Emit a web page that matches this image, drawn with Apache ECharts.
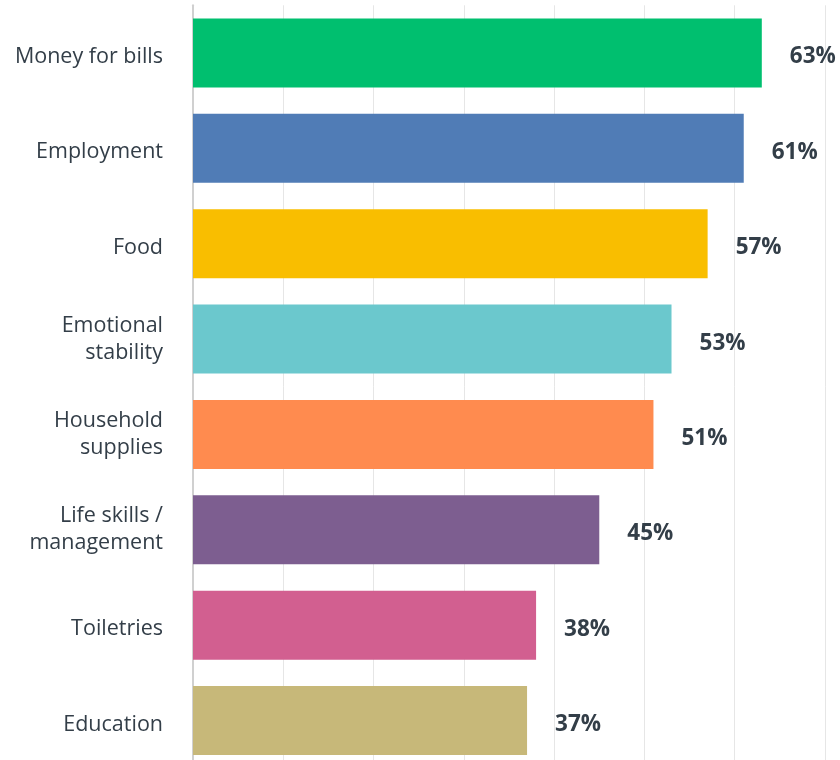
<!DOCTYPE html>
<html><head><meta charset="utf-8">
<script src="https://cdn.jsdelivr.net/npm/echarts@6/dist/echarts.min.js"></script>
<style>html,body{margin:0;padding:0;background:#fff;overflow:hidden}#c{width:840px;height:790px}</style>
</head><body><div id="c"></div>
<script>
const categories = ["Money for bills","Employment","Food","Emotional\nstability","Household\nsupplies","Life skills /\nmanagement","Toiletries","Education"];
const values = [63,61,57,53,51,45,38,37];
const colors = ["#00BF6F","#507CB6","#F9BE00","#6BC8CD","#FF8B4F","#7D5E90","#D25F90","#C7B879"];

const labelStyle = {color:'#333e48',fontSize:21.5,fontFamily:'Open Sans',lineHeight:27,align:'right'};
const chart = echarts.init(document.getElementById('c'));
chart.setOption({
  animation:false,
  grid:{left:193,top:5.3,width:632,height:763},
  xAxis:{type:'value',min:0,max:70,interval:10,
    axisLabel:{show:false},axisLine:{show:false},axisTick:{show:false},
    splitLine:{lineStyle:{color:'#e6e6e6',width:1}}},
  yAxis:{type:'category',inverse:true,data:categories,
    axisLine:{lineStyle:{color:'#d0d0d0',width:2}},axisTick:{show:false},
    axisLabel:{margin:30,align:'right',
      formatter:v=>{const p=v.split('\n');return p.length===1?'{a|'+v+'}':p.map(s=>'{b|'+s+'}').join('\n');},
      rich:{a:Object.assign({padding:[8,0,0,0]},labelStyle),b:labelStyle}}},
  series:[{type:'bar',barWidth:69,
    data:values.map((v,i)=>({value:v,itemStyle:{color:colors[i]}})),
    label:{show:true,position:'right',distance:28,offset:[0,4],formatter:'{c}%',color:'#333e48',fontSize:22.5,fontWeight:'bold',fontFamily:'Open Sans'}}]
});
</script></body></html>
